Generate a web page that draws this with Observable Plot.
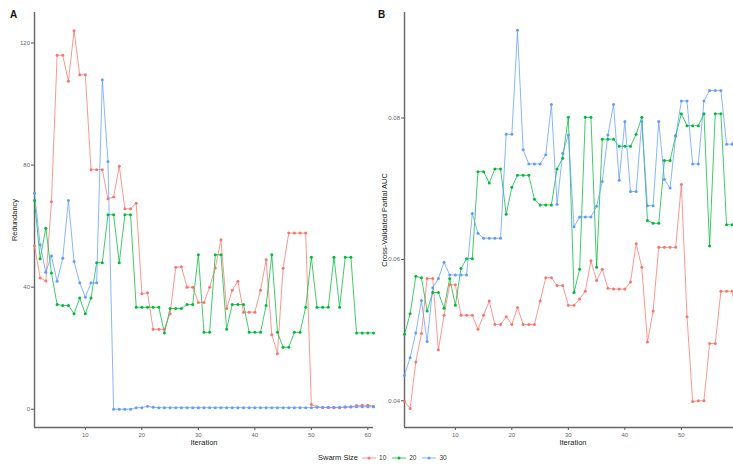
<!DOCTYPE html>
<html><head><meta charset="utf-8">
<script src="https://cdn.jsdelivr.net/npm/d3@7"></script>
<script src="https://cdn.jsdelivr.net/npm/@observablehq/plot@0.6"></script>
<style>
html,body{margin:0;padding:0;background:#fff;overflow:hidden;width:733px;height:464px;}
body{position:relative;font-family:"Liberation Sans",Arial,sans-serif;}
.panel{position:absolute;top:0;width:376px;height:450px;}
.panel svg{max-width:none !important;}
.tag{position:absolute;font-weight:bold;font-size:10px;color:#111;}
.ttl{position:absolute;font-size:7.5px;color:#222;white-space:nowrap;transform:translate(-50%,-50%);}
.rot{transform:translate(-50%,-50%) rotate(-90deg);}
#legend{position:absolute;left:318px;top:453px;font-size:7.5px;color:#222;display:flex;align-items:center;white-space:nowrap;}
#legend .k{display:inline-flex;align-items:center;margin-left:4px;}
#legend .k span{margin-left:3px;margin-right:2px;font-size:6.5px;color:#333;}
</style></head><body>
<div id="a" class="panel" style="left:0"></div>
<div id="b" class="panel" style="left:370px"></div>
<div class="tag" style="left:10px;top:9px">A</div>
<div class="tag" style="left:378px;top:9px">B</div>
<div class="ttl rot" style="left:14px;top:220px">Redundancy</div>
<div class="ttl rot" style="left:384px;top:220px">Cross-Validated Partial AUC</div>
<div class="ttl" style="left:204px;top:442px">Iteration</div>
<div class="ttl" style="left:573px;top:442px">Iteration</div>
<div id="legend"></div>
<script>
const iterations = [1,2,3,4,5,6,7,8,9,10,11,12,13,14,15,16,17,18,19,20,21,22,23,24,25,26,27,28,29,30,31,32,33,34,35,36,37,38,39,40,41,42,43,44,45,46,47,48,49,50,51,52,53,54,55,56,57,58,59,60,61];
const swarmSizes = ["10","20","30"];
const colors = ["#F8766D","#00BA38","#619CFF"];
const xTicks = [10,20,30,40,50,60];

// Panel A: Redundancy
const redundancy10 = [53.6,43,42,68,116,116,107.5,124,109.6,109.6,78.5,78.5,78.5,69,69.5,79.6,65.7,65.7,67.5,37.8,38.2,26.2,26.2,26.2,31.3,46.5,46.7,40,40,35,35,40,46.3,55.5,33,39,41.9,31.8,31.8,31.8,39,49,24.4,18.2,46.2,57.7,57.7,57.7,57.7,1.5,0.8,0.5,0.5,0.5,0.5,0.7,0.8,1.2,1.3,1.3,1.0];
const redundancy20 = [68.4,49.3,59.3,44.6,34.3,34,34,31.3,36.4,31.3,36.4,48,48,63.7,63.7,48,63.7,63.7,33.4,33.4,33.4,33.4,33.4,25,33,33,33,34.3,34.3,50.6,25.2,25.2,50.6,50.6,26.2,34.3,34.3,34.3,25.2,25.2,25.2,34,50.6,25.2,20.3,20.3,25.2,25.2,33.4,49.8,33.4,33.4,33.4,49.8,33.4,49.8,49.8,25,25,25,25];
const redundancy30 = [70.8,53.9,44.9,50.2,41.9,49.5,68.4,48.4,41.4,36.7,41.4,41.4,108,81.2,0,0,0,0,0.5,0.5,1,0.6,0.5,0.5,0.5,0.5,0.5,0.5,0.5,0.5,0.5,0.5,0.5,0.5,0.5,0.5,0.5,0.5,0.5,0.5,0.5,0.5,0.5,0.5,0.5,0.5,0.5,0.5,0.5,0.5,0.6,0.6,0.6,0.6,0.6,0.7,0.7,0.8,0.8,0.8,0.8];
const redundancyTicks = [0,40,80,120];

// Panel B: Cross-Validated Partial AUC
const auc10 = [0.0399,0.0389,0.0455,0.0495,0.0573,0.0573,0.0472,0.0521,0.0564,0.0564,0.0521,0.0521,0.0521,0.0501,0.0521,0.0541,0.0508,0.0508,0.0519,0.0508,0.0532,0.0508,0.0508,0.0508,0.0541,0.0574,0.0574,0.0563,0.0563,0.0535,0.0535,0.0544,0.0555,0.0598,0.0570,0.0586,0.0559,0.0558,0.0558,0.0558,0.0568,0.0622,0.0589,0.0483,0.0527,0.0617,0.0617,0.0617,0.0617,0.0706,0.0519,0.0399,0.0400,0.0400,0.0481,0.0481,0.0555,0.0555,0.0555,0.0505,0.0505];
const auc20 = [0.0494,0.0523,0.0576,0.0574,0.0527,0.0553,0.0553,0.0531,0.0573,0.0535,0.0587,0.0601,0.0601,0.0724,0.0724,0.0708,0.0728,0.0728,0.0664,0.0702,0.0719,0.0719,0.0719,0.0685,0.0677,0.0677,0.0677,0.0728,0.0743,0.0801,0.0553,0.0586,0.0801,0.0801,0.0589,0.0770,0.0770,0.0770,0.0760,0.0760,0.0760,0.0777,0.0801,0.0655,0.0651,0.0651,0.0740,0.0740,0.0775,0.0806,0.0789,0.0789,0.0789,0.0806,0.0619,0.0806,0.0806,0.0649,0.0649,0.0649,0.0649];
const auc30 = [0.0436,0.0461,0.0496,0.0542,0.0484,0.0560,0.0573,0.0596,0.0578,0.0578,0.0578,0.0578,0.0665,0.0637,0.0630,0.0630,0.0630,0.0630,0.0777,0.0777,0.0924,0.0755,0.0735,0.0735,0.0735,0.0748,0.0819,0.0678,0.0750,0.0776,0.0646,0.0660,0.0660,0.0660,0.0675,0.0710,0.0776,0.0819,0.0712,0.0795,0.0696,0.0696,0.0795,0.0676,0.0676,0.0795,0.0713,0.0701,0.0774,0.0824,0.0824,0.0735,0.0735,0.0824,0.0839,0.0839,0.0839,0.0763,0.0763,0.0790,0.0790];
const aucTicks = [0.04,0.06,0.08];

function toRows(seriesList) {
  const rows = [];
  seriesList.forEach((vals, s) => vals.forEach((v, i) => rows.push({iter: iterations[i], value: v, size: swarmSizes[s]})));
  return rows;
}

function panel(rows, yDomain, yTicks, fmt) {
  return Plot.plot({
    width: 376, height: 450,
    marginLeft: 34, marginRight: 3, marginTop: 12, marginBottom: 23,
    style: {fontFamily: "'Liberation Sans', Arial, sans-serif", fontSize: "6px", background: "transparent", maxWidth: "none"},
    x: {domain: [1, 61]},
    y: {domain: yDomain},
    color: {domain: swarmSizes, range: colors},
    marks: [
      Plot.axisX({ticks: xTicks, tickSize: 3, tickPadding: 2, label: null, stroke: "#555", fill: "#666"}),
      Plot.axisY({ticks: yTicks, tickSize: 3, tickPadding: 1.5, label: null, tickFormat: fmt, stroke: "#555", fill: "#666"}),
      Plot.ruleX([1], {stroke: "#666", strokeWidth: 1.4}),
      Plot.ruleY([yDomain[0]], {stroke: "#666", strokeWidth: 1.4}),
      Plot.line(rows, {x: "iter", y: "value", z: "size", stroke: "size", strokeWidth: 1, strokeOpacity: 0.75}),
      Plot.dot(rows, {x: "iter", y: "value", fill: "size", r: 1.5})
    ]
  });
}

document.getElementById("a").append(panel(toRows([redundancy10, redundancy20, redundancy30]), [-6, 130], redundancyTicks, d3.format("d")));
document.getElementById("b").append(panel(toRows([auc10, auc20, auc30]), [0.03622, 0.09492], aucTicks, d3.format(".2f")));

// legend
const lg = document.getElementById("legend");
lg.innerHTML = "<span>Swarm Size</span>" + swarmSizes.map((s, i) =>
  `<span class="k"><svg width="14" height="8"><line x1="0" y1="4" x2="14" y2="4" stroke="${colors[i]}" stroke-opacity="0.75"/><circle cx="7" cy="4" r="1.5" fill="${colors[i]}"/></svg><span>${s}</span></span>`).join("");
</script>
</body></html>
